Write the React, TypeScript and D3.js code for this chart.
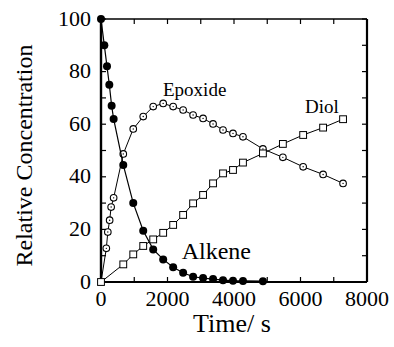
import React, { useEffect, useRef } from 'react';
import * as d3 from 'd3';

// values (time in s, relative concentration)
const alkeneTime = [0, 100, 180, 250, 320, 380, 670, 970, 1270, 1570, 1870, 2170, 2470, 2770, 3070, 3370, 3670, 3970, 4270, 4870];
const alkeneConc = [100, 90, 82, 75, 67, 62, 44.5, 30, 19.5, 12.4, 8.6, 5.6, 3.5, 2.0, 1.5, 1.1, 0.7, 0.5, 0.4, 0.3];

const epoxideTime = [0, 160, 205, 260, 305, 380, 670, 970, 1270, 1570, 1870, 2170, 2470, 2770, 3070, 3370, 3670, 3970, 4270, 4870, 5470, 6080, 6680, 7280];
const epoxideConc = [0, 12.8, 19, 23.5, 28.5, 32, 48.7, 58.2, 62.9, 66.7, 67.9, 66.7, 65.4, 63.5, 62.2, 60.1, 57.8, 56.5, 55.2, 50.6, 47.4, 43.8, 40.9, 37.5];

const diolTime = [0, 670, 970, 1270, 1570, 1870, 2170, 2470, 2770, 3070, 3370, 3670, 3970, 4270, 4870, 5470, 6080, 6680, 7280];
const diolConc = [0, 6.7, 10.5, 13.7, 16.2, 18.7, 21.7, 25.5, 29.9, 33.1, 37.5, 41.3, 42.6, 45.4, 48.9, 52.5, 55.9, 58.7, 61.9];

const xTickLabels = [0, 2000, 4000, 6000, 8000];
const yTickLabels = [0, 20, 40, 60, 80, 100];

const FONT = 'Liberation Serif';

const App = () => {
  const ref = useRef(null);

  useEffect(() => {
    const W = 394, H = 347;
    const left = 101, right = 367, top = 19, bottom = 282;

    const root = d3.select(ref.current);
    root.selectAll('*').remove();
    const svg = root.append('svg')
      .attr('width', W)
      .attr('height', H)
      .attr('font-family', FONT)
      .style('position', 'absolute')
      .style('left', 0)
      .style('top', 0)
      .style('background', '#fff');

    const x = d3.scaleLinear().domain([0, 8000]).range([left, right]);
    const y = d3.scaleLinear().domain([0, 100]).range([bottom, top]);

    // minor/major ticks, all pointing inward
    const tl = 5;
    const g = svg.append('g').attr('stroke', '#000').attr('stroke-width', 1.2);
    d3.range(0, 8001, 1000).forEach(t => {
      g.append('line').attr('x1', x(t)).attr('x2', x(t)).attr('y1', bottom).attr('y2', bottom - tl);
      g.append('line').attr('x1', x(t)).attr('x2', x(t)).attr('y1', top).attr('y2', top + tl);
    });
    d3.range(0, 101, 10).forEach(v => {
      g.append('line').attr('x1', left).attr('x2', left + tl).attr('y1', y(v)).attr('y2', y(v));
      g.append('line').attr('x1', right).attr('x2', right - tl).attr('y1', y(v)).attr('y2', y(v));
    });

    // frame
    svg.append('line').attr('x1', left).attr('x2', right).attr('y1', top).attr('y2', top)
      .attr('stroke', '#000').attr('stroke-width', 1.6);
    svg.append('line').attr('x1', left).attr('x2', right).attr('y1', bottom).attr('y2', bottom)
      .attr('stroke', '#000').attr('stroke-width', 2.2);
    svg.append('line').attr('x1', left).attr('x2', left).attr('y1', top).attr('y2', bottom)
      .attr('stroke', '#000').attr('stroke-width', 2.4);
    svg.append('line').attr('x1', right).attr('x2', right).attr('y1', top).attr('y2', bottom)
      .attr('stroke', '#000').attr('stroke-width', 2.2);

    // tick labels
    svg.append('g').selectAll('text').data(xTickLabels).join('text')
      .attr('x', d => x(d))
      .attr('y', bottom + 23.5)
      .attr('text-anchor', 'middle')
      .attr('font-size', 22)
      .text(d => d);
    svg.append('g').selectAll('text').data(yTickLabels).join('text')
      .attr('x', left - 10)
      .attr('y', d => y(d) + 6.5)
      .attr('text-anchor', 'end')
      .attr('font-size', 22)
      .text(d => d);

    // axis titles
    svg.append('text')
      .attr('x', (left + right) / 2 - 2)
      .attr('y', 332)
      .attr('text-anchor', 'middle')
      .attr('font-size', 26)
      .text('Time/ s');
    svg.append('text')
      .attr('transform', `translate(32,${(top + bottom) / 2 + 5}) rotate(-90)`)
      .attr('text-anchor', 'middle')
      .attr('font-size', 24)
      .text('Relative Concentration');

    const line = d3.line().x(d => x(d[0])).y(d => y(d[1]));
    const epoxide = epoxideTime.map((t, i) => [t, epoxideConc[i]]);
    const diol = diolTime.map((t, i) => [t, diolConc[i]]);
    const alkene = alkeneTime.map((t, i) => [t, alkeneConc[i]]);

    // epoxide: open circles with a centre dot
    svg.append('path').datum(epoxide).attr('d', line)
      .attr('fill', 'none').attr('stroke', '#000').attr('stroke-width', 1);
    const ep = svg.append('g').selectAll('g').data(epoxide.slice(1)).join('g');
    ep.append('circle').attr('cx', d => x(d[0])).attr('cy', d => y(d[1])).attr('r', 3.3)
      .attr('fill', '#fff').attr('stroke', '#000').attr('stroke-width', 1.1);
    ep.append('circle').attr('cx', d => x(d[0])).attr('cy', d => y(d[1])).attr('r', 0.7)
      .attr('fill', '#000');

    // alkene: filled circles
    svg.append('path').datum(alkene).attr('d', line)
      .attr('fill', 'none').attr('stroke', '#000').attr('stroke-width', 1.2);
    svg.append('g').selectAll('circle').data(alkene).join('circle')
      .attr('cx', d => x(d[0])).attr('cy', d => y(d[1])).attr('r', 4)
      .attr('fill', '#000');

    // diol: open squares
    svg.append('path').datum(diol).attr('d', line)
      .attr('fill', 'none').attr('stroke', '#000').attr('stroke-width', 1);
    const s = 6.8;
    svg.append('g').selectAll('rect').data(diol).join('rect')
      .attr('x', d => x(d[0]) - s / 2).attr('y', d => y(d[1]) - s / 2)
      .attr('width', s).attr('height', s)
      .attr('fill', '#fff').attr('stroke', '#000').attr('stroke-width', 1);

    // series labels
    const lab = (t, v, size, txt) => svg.append('text')
      .attr('x', x(t)).attr('y', y(v))
      .attr('font-size', size)
      .text(txt);
    lab(1865, 70.7, 19, 'Epoxide');
    lab(6136, 64.3, 19, 'Diol');
    lab(2427, 8.9, 24, 'Alkene');
  }, []);

  return <div ref={ref} />;
};

export default App;
